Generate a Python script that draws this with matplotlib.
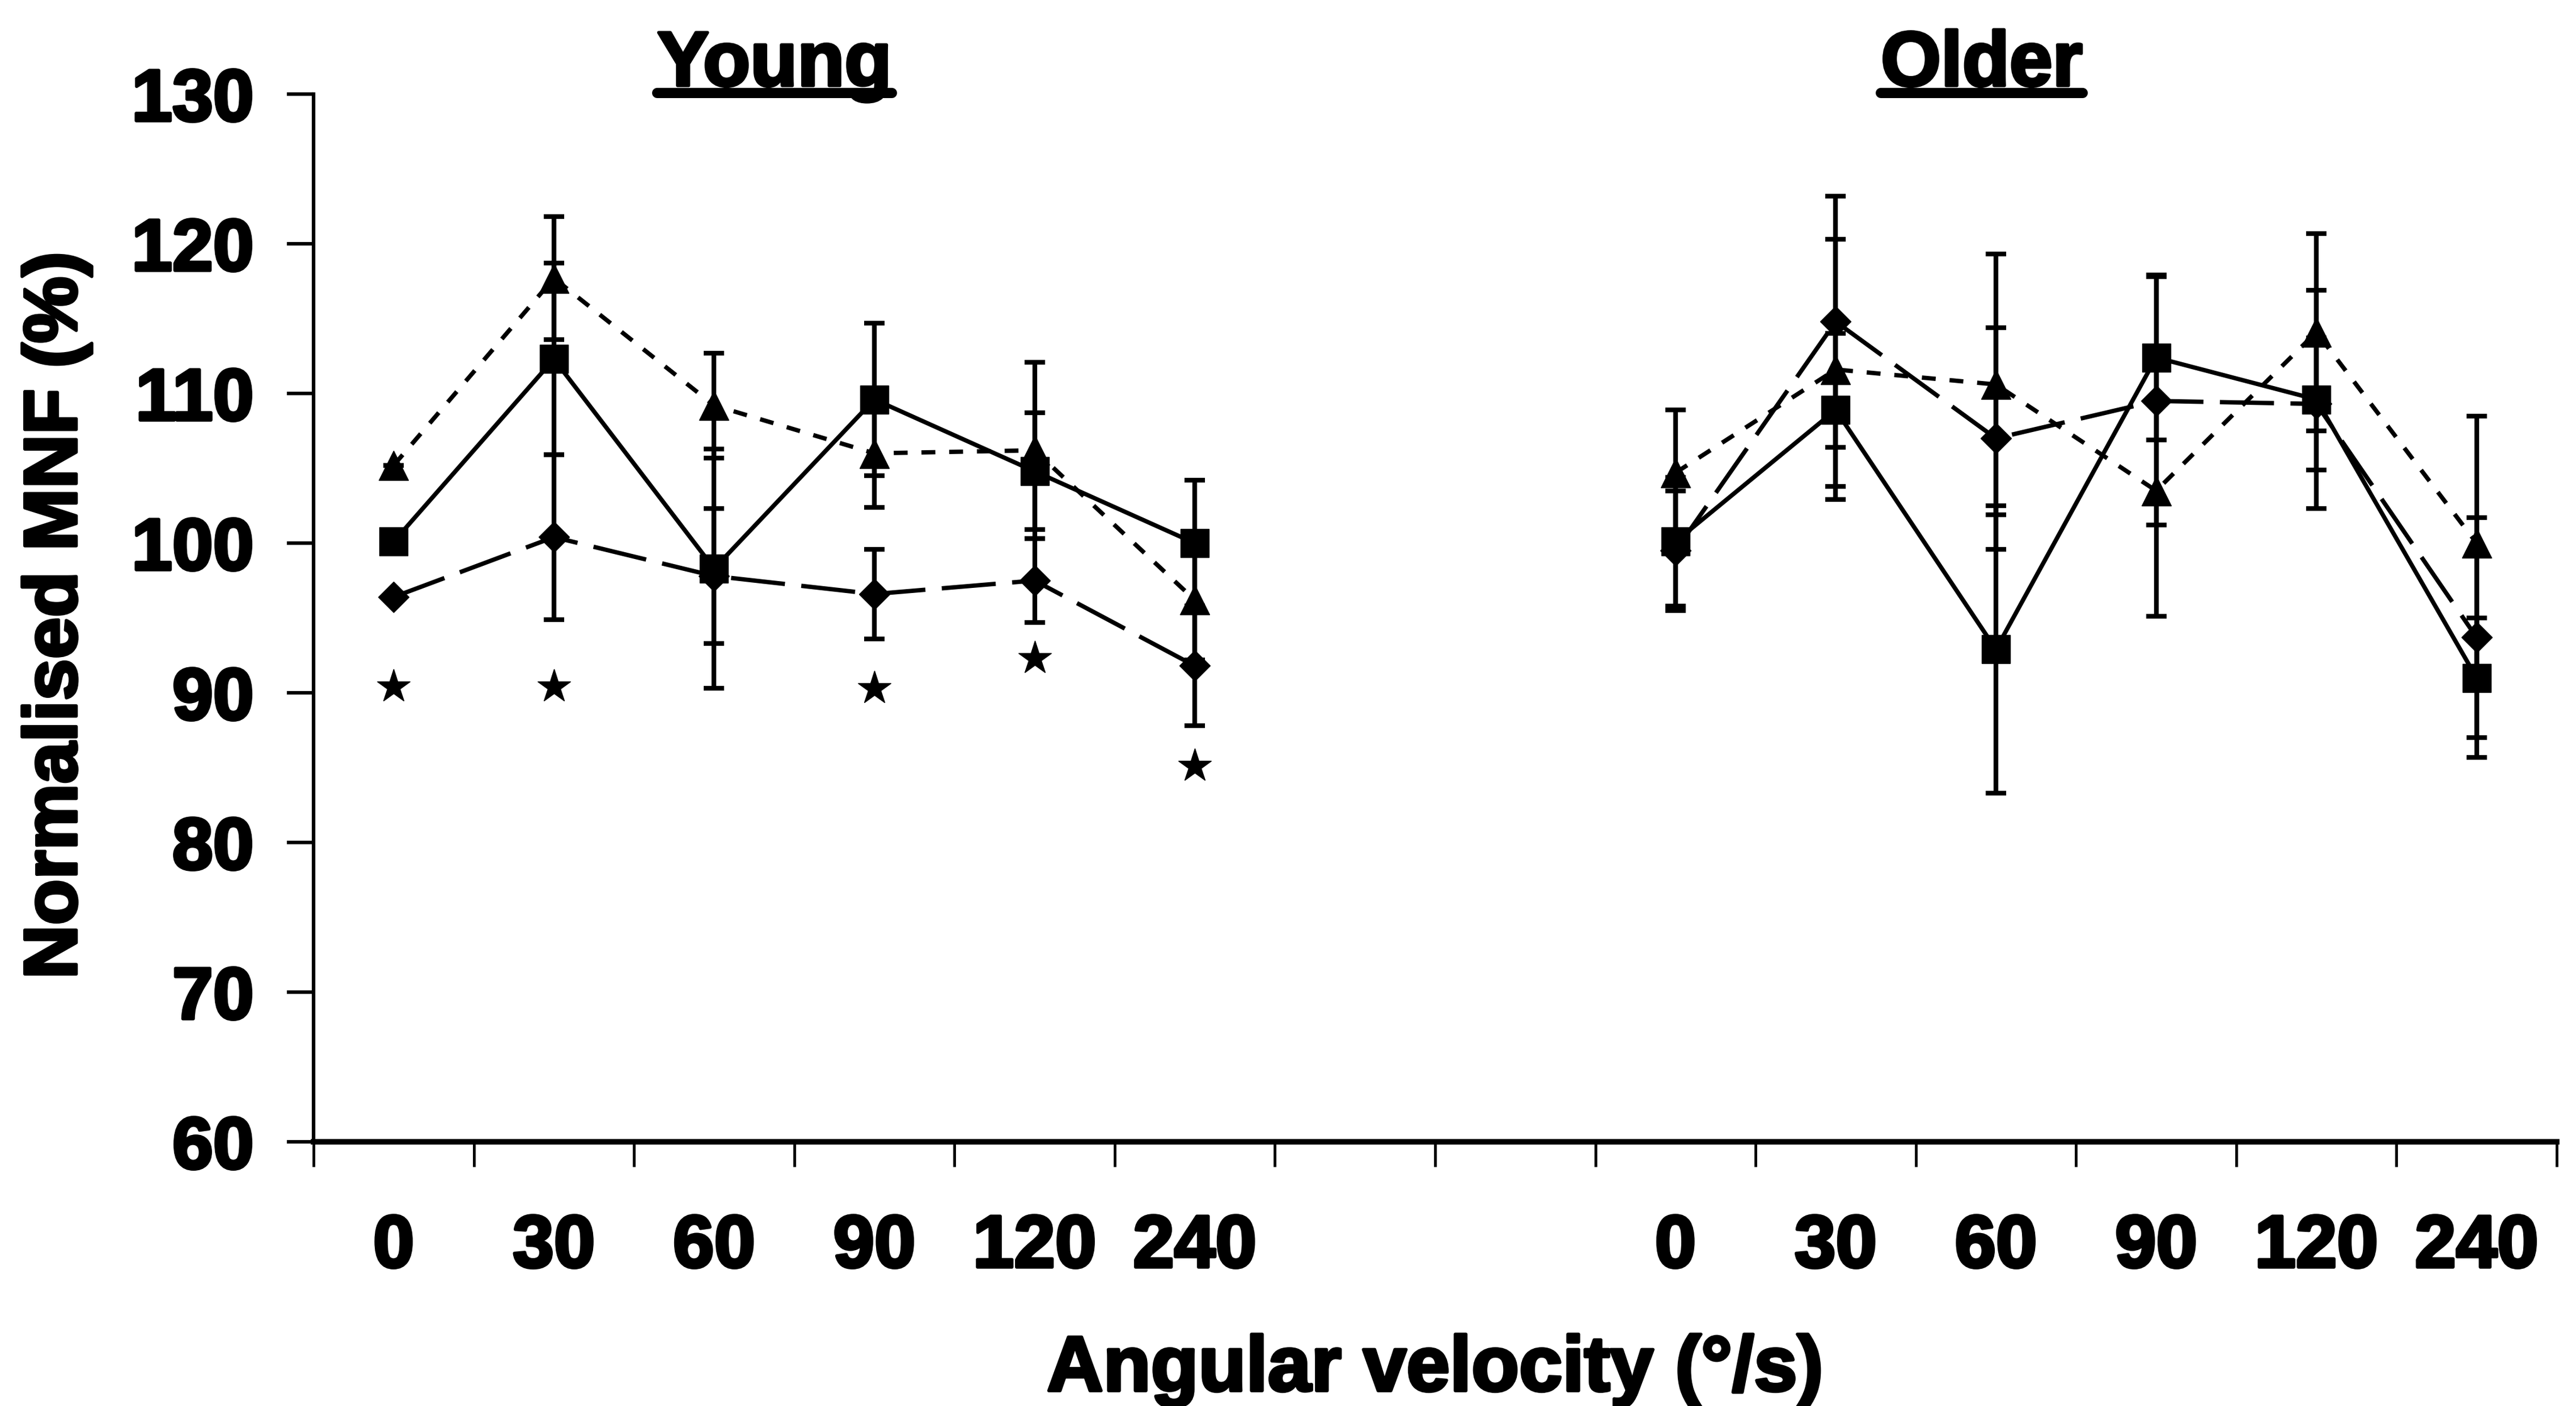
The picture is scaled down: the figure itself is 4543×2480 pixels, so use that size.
import numpy as np
import matplotlib
matplotlib.use('Agg')
import matplotlib.pyplot as plt
import matplotlib.patheffects as pe
from matplotlib.lines import Line2D

plt.rcParams['font.family'] = ['Liberation Sans', 'DejaVu Sans']
plt.rcParams['font.weight'] = 'bold'

# angular velocity categories (deg/s), same for both age groups
velocities = ['0', '30', '60', '90', '120', '240']
groups = ['Young', 'Older']

# normalised MNF (%) - square / solid line
square_young = [100.1, 112.3, 98.3, 109.6, 104.8, 100.0]
square_young_err = [0.0, 6.4, 8.0, 5.1, 3.9, 4.2]
square_older = [100.1, 108.9, 92.9, 112.4, 109.6, 91.0]
square_older_err = [4.3, 5.1, 9.6, 5.5, 7.3, 4.0]

# triangle / dotted line
triangle_young = [105.2, 117.7, 109.2, 106.0, 106.2, 96.2]
triangle_young_err = [0.0, 4.1, 3.5, 3.6, 5.9, 4.0]
triangle_older = [104.7, 111.6, 110.6, 103.5, 114.1, 100.0]
triangle_older_err = [4.2, 8.7, 8.7, 8.4, 6.6, 8.5]

# diamond / dashed line
diamond_young = [96.4, 100.4, 97.8, 96.6, 97.5, 91.8]
diamond_young_err = [0.0, 5.5, 4.5, 3.0, 2.8, 4.0]
diamond_older = [99.5, 114.8, 107.0, 109.5, 109.3, 93.7]
diamond_older_err = [4.0, 8.4, 7.4, 8.3, 4.4, 8.0]

# significance asterisks (young group only)
star_idx = [0, 1, 3, 4, 5]
star_y = [90.4, 90.4, 90.3, 92.3, 85.1]

n = len(velocities)
gap = 2
x_young = np.arange(n) + 0.5
x_older = np.arange(n) + n + gap + 0.5
ncat = 2 * n + gap

fig = plt.figure(figsize=(45.43, 24.80), dpi=100)
ax = fig.add_axes([553 / 4543, 1 - 2014 / 2480, (4509 - 553) / 4543, (2014 - 166) / 2480])

lw = 5.5
common = dict(color='black', ecolor='black', elinewidth=6, capsize=13, capthick=6,
              linewidth=lw, markeredgecolor='black', markerfacecolor='black')

series = [
    (square_young, square_young_err, square_older, square_older_err, 's', 36, dict(linestyle='-')),
    (triangle_young, triangle_young_err, triangle_older, triangle_older_err, '^', 38, dict(dashes=(3.2, 3.2))),
    (diamond_young, diamond_young_err, diamond_older, diamond_older_err, 'D', 27, dict(dashes=(12.5, 3.8))),
]

for yy, ye, yo, oe, mk, ms, ls in series:
    ax.errorbar(x_young, yy, yerr=ye, marker=mk, markersize=ms, **ls, **common)
    ax.errorbar(x_older, yo, yerr=oe, marker=mk, markersize=ms, **ls, **common)

ax.plot(x_young[star_idx], star_y, linestyle='none', marker='*', markersize=44, color='black')

ax.set_xlim(0, ncat)
ax.set_ylim(60, 130)
ax.set_yticks(np.arange(60, 131, 10))
ax.set_xticks(np.arange(0, ncat + 1))
ax.set_xticklabels([])
centers = np.arange(ncat) + 0.5
ax.set_xticks(centers, minor=True)
ax.set_xticklabels(velocities + [''] * gap + velocities, minor=True)

for s in ['top', 'right']:
    ax.spines[s].set_visible(False)
ax.spines['left'].set_linewidth(4.5)
ax.spines['bottom'].set_linewidth(7)

stroke = [pe.withStroke(linewidth=4, foreground='black')]
ax.tick_params(axis='y', which='major', direction='out', length=34, width=4.5, pad=42, labelsize=93)
ax.tick_params(axis='x', which='major', direction='out', length=32, width=3.5)
ax.tick_params(axis='x', which='minor', length=0, pad=90, labelsize=94)
for lab in ax.get_yticklabels() + ax.get_xticklabels(minor=True):
    lab.set_fontweight('bold')
    lab.set_path_effects(stroke)

fig.text(100 / 4543, 1 - 1085 / 2480, 'Normalised MNF (%)', rotation=90, ha='center', va='center',
         fontsize=95, fontweight='bold', path_effects=stroke)
fig.text(2531 / 4543, 1 - 2453 / 2480, 'Angular velocity (°/s)', ha='center', va='baseline',
         fontsize=99, fontweight='bold', path_effects=stroke)

titles = []
for name, xc in zip(groups, [1366, 3495]):
    t = fig.text(xc / 4543, 1 - 151 / 2480, name, ha='center', va='baseline',
                 fontsize=98, fontweight='bold', path_effects=stroke)
    titles.append(t)

fig.canvas.draw()
r = fig.canvas.get_renderer()
inv = fig.transFigure.inverted()
for t in titles:
    bb = t.get_window_extent(r).transformed(inv)
    y_ul = 1 - 164 / 2480
    fig.add_artist(Line2D([bb.x0, bb.x1], [y_ul, y_ul], transform=fig.transFigure,
                          color='black', linewidth=13, solid_capstyle='round'))

fig.savefig('out.png', dpi=100)
